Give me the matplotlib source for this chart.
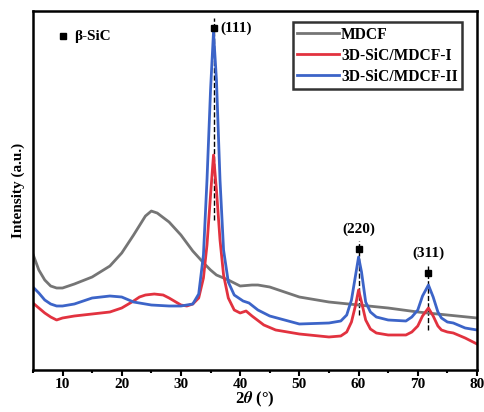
import matplotlib
matplotlib.use("Agg")
import matplotlib.pyplot as plt
from matplotlib.ticker import MultipleLocator

plt.rcParams["font.family"] = ["Liberation Serif", "DejaVu Sans"]
plt.rcParams["font.weight"] = "bold"
plt.rcParams["mathtext.fontset"] = "stix"

# Intensity in arbitrary units (0 = bottom of axes)
mdcf_x = [5, 6, 7, 8, 9, 10, 12, 15, 18, 20, 22, 24, 25, 26, 28, 30, 32, 34, 35, 36,
          38, 40, 42, 43, 44, 45, 47, 50, 55, 60, 65, 70, 75, 80]
mdcf_y = [116, 100, 90, 84, 82, 82, 86, 93, 104, 117, 135, 154, 159, 157, 148, 135, 119,
          106, 100, 95, 90, 84, 85, 85, 84, 83, 79, 73, 68, 65, 62, 58, 55, 52]

sic1_x = [5, 6, 7, 8, 9, 10, 12, 15, 18, 20, 22, 23, 24, 25.5, 27, 28, 30, 31, 32, 33,
          33.8, 34.4, 35, 35.5, 36, 36.6, 37.2, 38, 39, 40, 41, 42, 44, 46, 50, 55, 57,
          58, 58.8, 59.5, 60, 60.5, 61.2, 62, 63, 65, 68, 69, 70, 70.8, 71.8, 72.6, 73.4,
          74, 75, 76, 78, 80]
sic1_y = [67, 62, 57, 53, 50, 52, 54, 56, 58, 62, 69, 73, 75, 76, 75, 72, 65, 64, 66,
          72, 92, 125, 175, 215, 180, 130, 95, 72, 60, 57, 59, 54, 45, 40, 36, 33, 34,
          38, 48, 65, 80, 68, 50, 41, 37, 35, 35, 38, 44, 54, 62, 54, 44, 40, 38, 37, 32, 26]

sic2_x = [5, 6, 7, 8, 9, 10, 12, 15, 18, 20, 22, 25, 28, 30, 32, 33, 33.8, 34.4, 35,
          35.5, 36, 36.6, 37.2, 38, 39, 40.5, 41.5, 43, 45, 50, 55, 57, 58, 58.8, 59.5,
          60, 60.5, 61.2, 62, 63, 65, 68, 69, 70, 70.8, 71.8, 72.6, 73.4, 74, 75, 76, 78, 80]
sic2_y = [83, 77, 70, 66, 64, 64, 66, 72, 74, 73, 68, 65, 64, 64, 66, 76, 115, 190, 280,
          338, 290, 190, 120, 88, 75, 69, 67, 60, 54, 46, 47, 49, 55, 70, 95, 113, 98, 68,
          58, 53, 50, 49, 53, 60, 74, 85, 73, 58, 52, 48, 47, 42, 40]

peak_x = [35.6, 60.0, 71.8]
peak_labels = ["(111)", "(220)", "(311)"]
marker_y = [342, 121, 97]

fig = plt.figure(figsize=(4.84, 4.12), dpi=100)
ax = fig.add_axes([0.068, 0.102, 0.9175, 0.871])

ax.plot(mdcf_x, mdcf_y, color="#757575", lw=2, label="MDCF")
ax.plot(sic1_x, sic1_y, color="#e2323f", lw=2, label="3D-SiC/MDCF-I")
ax.plot(sic2_x, sic2_y, color="#3c64c8", lw=2, label="3D-SiC/MDCF-II")

# dashed guide lines, markers and Miller indices
guide_low = [150, 55, 40]
guide_high = [352, 129, 105]
for px, my, lo, hi in zip(peak_x, marker_y, guide_low, guide_high):
    ax.plot([px, px], [lo, hi], ls="--", color="black", lw=1, zorder=1)
    ax.plot(px, my, "s", color="black", ms=4)
ax.text(36.6, 342, peak_labels[0], fontsize=11, fontweight="bold", va="center", ha="left")
ax.text(60.0, 134, peak_labels[1], fontsize=11, fontweight="bold", va="bottom", ha="center")
ax.text(71.8, 110, peak_labels[2], fontsize=11, fontweight="bold", va="bottom", ha="center")

ax.plot(10, 334, "s", color="black", ms=4)
ax.text(12.0, 334, "β-SiC", fontsize=11, fontweight="bold", va="center")

ax.set_xlim(5, 80)
ax.set_ylim(0, 359)
ax.xaxis.set_major_locator(MultipleLocator(10))
ax.xaxis.set_minor_locator(MultipleLocator(5))
ax.tick_params(axis="x", which="major", direction="out", length=4, width=1.5, labelsize=11,
               pad=2)
ax.tick_params(axis="x", which="minor", direction="out", length=2, width=1.5)
ax.set_yticks([])
for lab in ax.get_xticklabels():
    lab.set_fontweight("bold")
for sp in ax.spines.values():
    sp.set_linewidth(1.8)

ax.set_xlabel(r"2$\theta$ (°)", fontsize=12, fontweight="bold", labelpad=-1)
ax.set_ylabel("Intensity (a.u.)", fontsize=11, fontweight="bold", labelpad=6)

leg = ax.legend(loc="upper right", bbox_to_anchor=(0.967, 0.97), fontsize=11.2,
                frameon=True, fancybox=False, edgecolor="black", handlelength=2.7,
                handletextpad=0.1, borderpad=0.3, labelspacing=0.32, borderaxespad=0)
leg.get_frame().set_linewidth(1.8)
for t in leg.get_texts():
    t.set_fontweight("bold")

fig.savefig("out.png", dpi=100)
